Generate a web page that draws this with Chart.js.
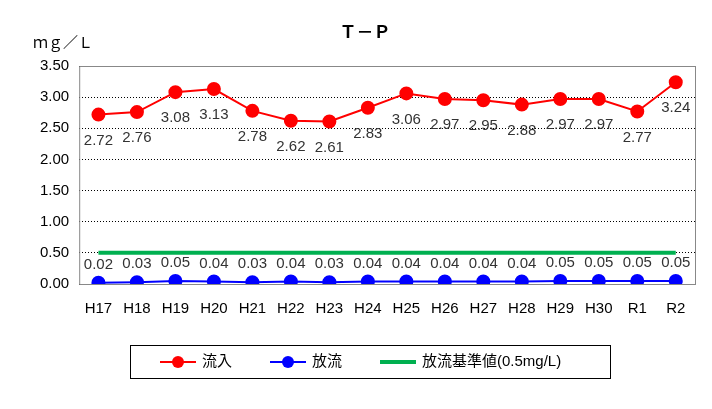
<!DOCTYPE html>
<html><head><meta charset="utf-8">
<script src="https://cdn.jsdelivr.net/npm/chart.js"></script>
<style>html,body{margin:0;padding:0;background:#fff}#w{width:712px;height:409px;position:relative}</style>
</head><body><div id="w"><canvas id="c" width="712" height="409"></canvas></div>
<script>
const categories=["H17","H18","H19","H20","H21","H22","H23","H24","H25","H26","H27","H28","H29","H30","R1","R2"];
const inflow=[2.72,2.76,3.08,3.13,2.78,2.62,2.61,2.83,3.06,2.97,2.95,2.88,2.97,2.97,2.77,3.24];
const outflow=[0.02,0.03,0.05,0.04,0.03,0.04,0.03,0.04,0.04,0.04,0.04,0.04,0.05,0.05,0.05,0.05];
const standard=categories.map(()=>0.5);
const seriesNames=['流入','放流','放流基準値(0.5mg/L)'];
const F="'Liberation Sans','Noto Sans CJK JP',sans-serif";
const deco={id:'deco',afterDatasetsDraw(ch){const x=ch.ctx;x.save();x.font="15px "+F;x.fillStyle="#333";x.textAlign="center";x.textBaseline="middle";
ch.getDatasetMeta(0).data.forEach((p,i)=>x.fillText(inflow[i].toFixed(2),p.x,p.y+26));
ch.getDatasetMeta(1).data.forEach((p,i)=>x.fillText(outflow[i].toFixed(2),p.x,p.y-18));
const a=ch.chartArea;x.strokeStyle="#888";x.lineWidth=1;x.strokeRect(a.left+.5,a.top+.5,a.width,a.height);
x.fillStyle="#000";x.font="bold 17px 'Noto Sans CJK JP'";x.fillText("Ｔ－Ｐ",365,32);x.font="15px 'Noto Sans CJK JP'";x.textAlign="left";x.fillText("ｍｇ／Ｌ",33,42);
// legend
x.strokeStyle="#000";x.strokeRect(130.5,345.5,480,33);
const items=[[160,'#ff0000',true,2],[270,'#0000ff',true,2],[380,'#00b050',false,4]];
x.font="15px "+F;
items.forEach((it,i)=>{const [lx,c,dot,w]=it;x.strokeStyle=c;x.lineWidth=w;x.beginPath();x.moveTo(lx,362);x.lineTo(lx+36,362);x.stroke();
if(dot){x.fillStyle=c;x.beginPath();x.arc(lx+18,362,6,0,7);x.fill();}
x.fillStyle="#000";x.textAlign="left";x.fillText(seriesNames[i],lx+42,362);});
x.restore();}};
new Chart(document.getElementById('c'),{type:'line',data:{labels:categories,datasets:[
{label:seriesNames[0],data:inflow,borderColor:'#ff0000',backgroundColor:'#ff0000',pointRadius:6,borderWidth:2},
{label:seriesNames[1],data:outflow,borderColor:'#0000ff',backgroundColor:'#0000ff',pointRadius:6,borderWidth:2},
{label:seriesNames[2],data:standard,borderColor:'#00b050',backgroundColor:'#00b050',pointRadius:0,borderWidth:4}]},
options:{responsive:false,animation:false,layout:{padding:{left:30,right:17,top:66,bottom:83}},
scales:{x:{offset:true,grid:{display:false},border:{display:false},ticks:{padding:8,color:'#000',font:{size:15,family:F},maxRotation:0,autoSkip:false}},
y:{min:0,max:3.5,grid:{color:'#000',drawTicks:false},border:{display:false,dash:[1,2]},ticks:{stepSize:0.5,padding:10,color:'#000',font:{size:15,family:F},callback:v=>v.toFixed(2)}}},
plugins:{legend:{display:false},tooltip:{enabled:false}}},plugins:[deco]});
</script></body></html>
